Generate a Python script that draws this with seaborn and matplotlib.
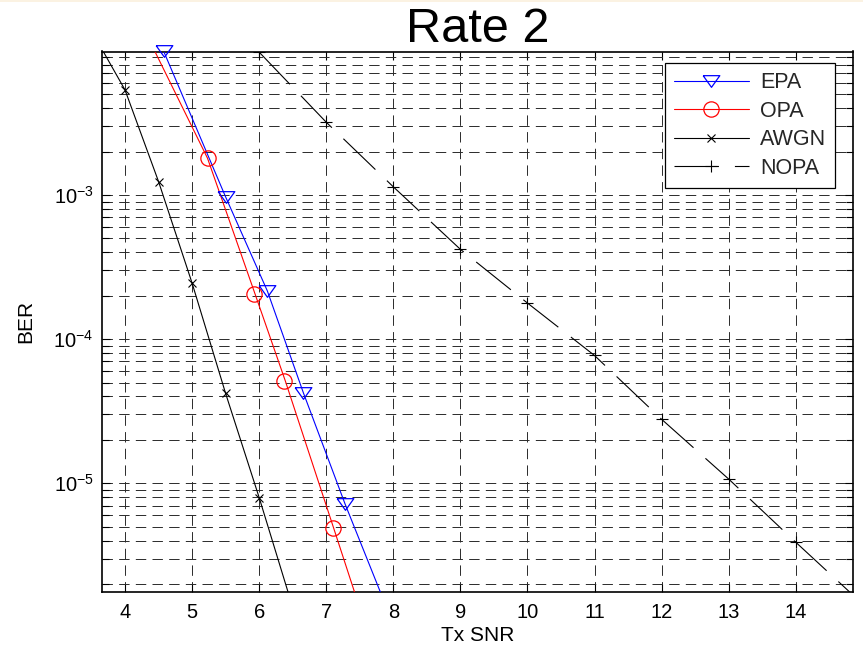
import numpy as np
import pandas as pd
import matplotlib
matplotlib.use("Agg")
import matplotlib.pyplot as plt
import seaborn as sns
from matplotlib.lines import Line2D
from matplotlib.patches import Rectangle
from matplotlib.ticker import LogLocator, NullFormatter, LogFormatterMathtext, FixedLocator

# ---------------- data ----------------
title = "Rate 2"
xlabel = "Tx SNR"
ylabel = "BER"
xticks = [4, 5, 6, 7, 8, 9, 10, 11, 12, 13, 14]

# EPA (blue, triangles) - line vertices and marker points
epa_line_x = [4.40, 4.574, 5.50, 6.122, 6.658, 7.28, 8.00]
epa_line_y = [1.55e-2, 1.0e-2, 9.7e-4, 2.16e-4, 4.26e-5, 7.2e-6, 1.05e-6]
epa_mark_x = [4.574, 5.50, 6.122, 6.658, 7.28]
epa_mark_y = [1.0e-2, 9.7e-4, 2.16e-4, 4.26e-5, 7.2e-6]

# OPA (red, circles)
opa_line_x = [4.30, 5.23, 5.94, 6.39, 7.11, 7.60]
opa_line_y = [1.36e-2, 1.8e-3, 2.05e-4, 5.13e-5, 4.9e-6, 9.8e-7]
opa_mark_x = [5.23, 5.923, 6.375, 7.10]
opa_mark_y = [1.8e-3, 2.05e-4, 5.13e-5, 4.9e-6]

# AWGN (black, x)
awgn_x = [3.5, 4.0, 4.5, 5.0, 5.5, 6.0, 6.5]
awgn_y = [1.38e-2, 5.36e-3, 1.24e-3, 2.45e-4, 4.2e-5, 7.96e-6, 1.38e-6]

# NOPA (black dashed, +)
nopa_x = [6, 7, 8, 9, 10, 11, 12, 13, 14, 15]
nopa_y = [9.8e-3, 3.2e-3, 1.14e-3, 4.2e-4, 1.78e-4, 7.7e-5, 2.78e-5, 1.07e-5, 3.9e-6, 1.45e-6]

labels = ["EPA", "OPA", "AWGN", "NOPA"]

# ---------------- style ----------------
sns.set_theme(style="white")
plt.rcParams["font.family"] = ["Liberation Sans", "DejaVu Sans"]
plt.rcParams["mathtext.fontset"] = "custom"
plt.rcParams["mathtext.rm"] = "Liberation Sans"
plt.rcParams["mathtext.it"] = "Liberation Sans:italic"
plt.rcParams["mathtext.default"] = "regular"
plt.rcParams["lines.scale_dashes"] = False
plt.rcParams["axes.unicode_minus"] = False

fig = plt.figure(figsize=(8.63, 6.47), dpi=100)
fig.patch.set_facecolor("white")
fig.patches.append(Rectangle((0, 1 - 2 / 647), 1, 2 / 647, transform=fig.transFigure,
                             facecolor="#fbf2e2", edgecolor="none", zorder=0))
ax = fig.add_axes([102 / 863, (647 - 591.5) / 647, 751 / 863, 540 / 647])
ax.set_yscale("log")

LW = 0.8
tri = [(-1, 0.7), (1, 0.7), (0, -0.7), (-1, 0.7)]
nopa_dash = (32, 11.5)

# lines
sns.lineplot(x=epa_line_x, y=epa_line_y, ax=ax, color="blue", lw=LW, sort=False,
             estimator=None, zorder=3)
sns.lineplot(x=opa_line_x, y=opa_line_y, ax=ax, color="red", lw=LW, sort=False,
             estimator=None, zorder=3)
sns.lineplot(x=awgn_x, y=awgn_y, ax=ax, color="black", lw=LW, sort=False,
             estimator=None, marker="x", markersize=6, markeredgewidth=0.8,
             markeredgecolor="black", zorder=3)
sns.lineplot(x=nopa_x, y=nopa_y, ax=ax, color="black", lw=LW, sort=False,
             estimator=None, marker="+", markersize=9, markeredgewidth=0.8,
             markeredgecolor="black", dashes=False, zorder=3)
ax.lines[-1].set_dashes(nopa_dash)

# markers
ax.plot(epa_mark_x, epa_mark_y, linestyle="none", marker=tri, markersize=12,
        markerfacecolor="none", markeredgecolor="blue", markeredgewidth=0.9,
        clip_on=False, zorder=4)
ax.plot(opa_mark_x, opa_mark_y, linestyle="none", marker="o", markersize=11,
        markerfacecolor="none", markeredgecolor="red", markeredgewidth=0.9,
        clip_on=False, zorder=4)

# axes limits and ticks
ax.set_xlim(3.657, 14.854)
ax.set_ylim(1.774e-6, 9.9e-3)
ax.xaxis.set_major_locator(FixedLocator(xticks))
ax.set_xticklabels([str(t) for t in xticks])
ax.yaxis.set_major_locator(LogLocator(base=10, numticks=12))
ax.yaxis.set_major_formatter(LogFormatterMathtext())
ax.yaxis.set_minor_locator(LogLocator(base=10, subs=np.arange(2, 10), numticks=12))
ax.yaxis.set_minor_formatter(NullFormatter())

ax.tick_params(axis="both", which="both", direction="in", top=True, right=True,
               bottom=True, left=True, color="black", width=0.8)
ax.tick_params(axis="both", which="major", length=6, labelsize=14.5, pad=6,
               labelcolor="black")
ax.tick_params(axis="x", which="major", pad=8)
ax.tick_params(axis="y", which="minor", length=5)
ax.tick_params(axis="x", which="minor", length=0)

for s in ax.spines.values():
    s.set_visible(True)
    s.set_color("black")
    s.set_linewidth(1.2)

# grid
grid_kw = dict(color="#2a2a2a", linewidth=0.7, linestyle=(0, (7.5, 4.5)))
ax.grid(True, which="major", axis="both", **grid_kw)
ax.grid(True, which="minor", axis="y", **grid_kw)
ax.set_axisbelow(True)

ax.set_title(title, fontsize=35, pad=3.5, color="black")
ax.set_xlabel(xlabel, fontsize=15, labelpad=3, color="black")
ax.set_ylabel(ylabel, fontsize=15, labelpad=13, color="black")

# legend
handles = [
    Line2D([], [], color="blue", lw=LW, marker=tri, markersize=12,
           markerfacecolor="none", markeredgecolor="blue", markeredgewidth=0.9),
    Line2D([], [], color="red", lw=LW, marker="o", markersize=11,
           markerfacecolor="none", markeredgecolor="red", markeredgewidth=0.9),
    Line2D([], [], color="black", lw=LW, marker="x", markersize=6,
           markeredgewidth=0.8),
    Line2D([], [], color="black", lw=LW, marker="+", markersize=9,
           markeredgewidth=0.8, dashes=nopa_dash),
]
leg = ax.legend(handles, labels, loc="upper right",
                bbox_to_anchor=((835 - 102) / 751, 1 - (63 - 51.5) / 540),
                borderaxespad=0, fontsize=15.5, handlelength=3.5, handletextpad=0.5,
                labelspacing=0.35, borderpad=0.42, fancybox=False, framealpha=1,
                edgecolor="black", facecolor="white")
leg.get_frame().set_linewidth(0.9)
leg.set_zorder(10)

fig.savefig("out.png", dpi=100)
